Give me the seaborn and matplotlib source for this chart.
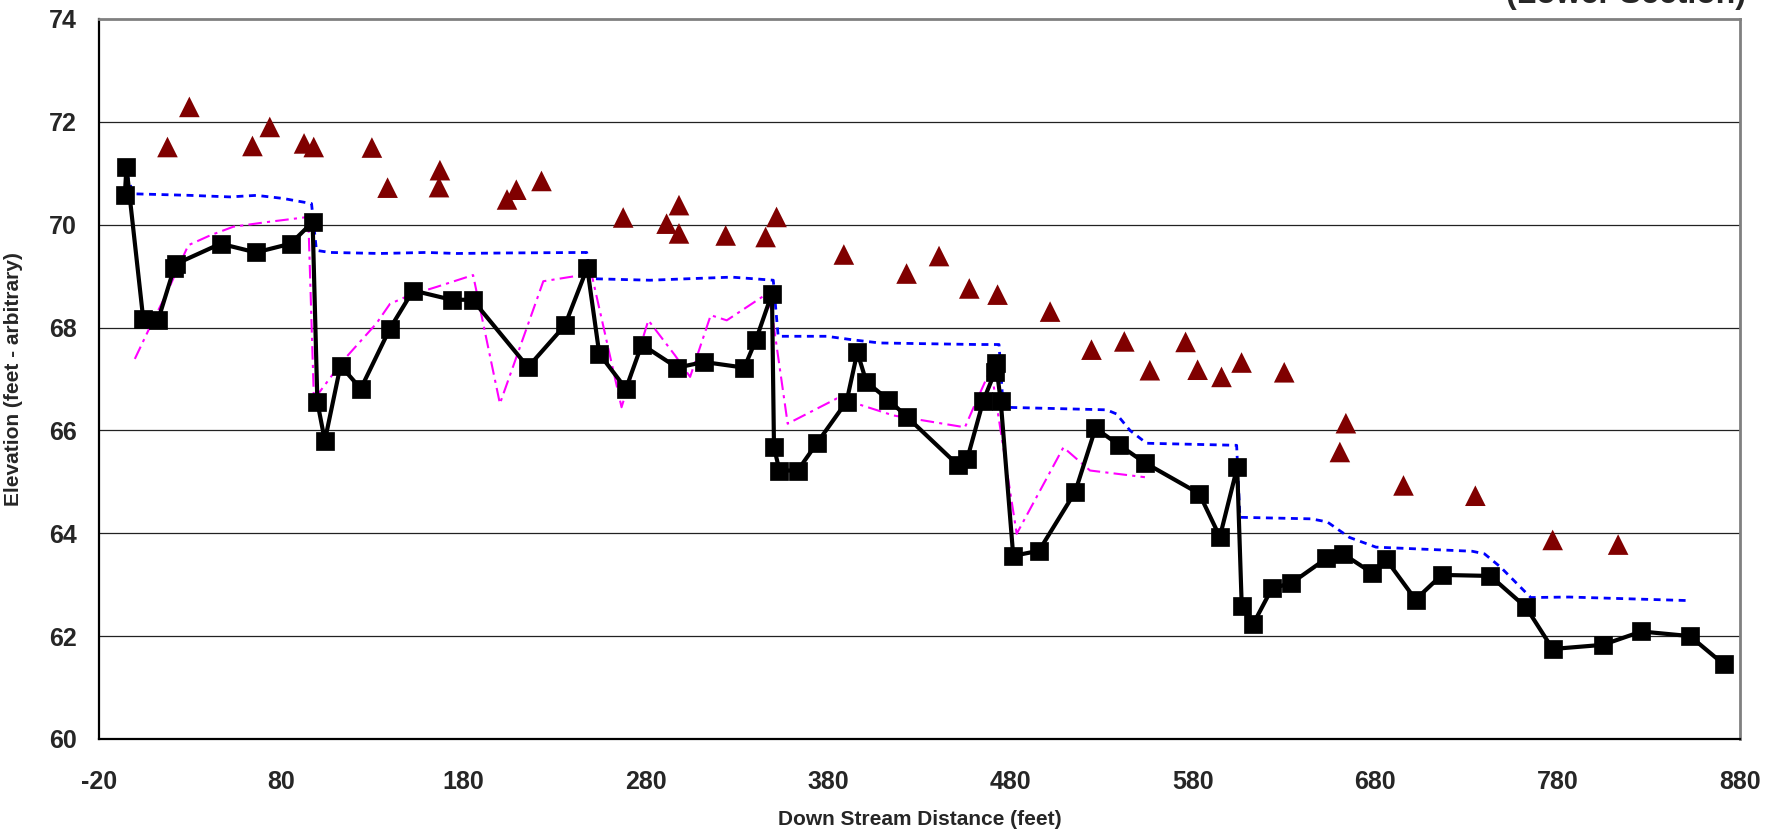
import matplotlib
matplotlib.use("Agg")
import matplotlib.pyplot as plt
import seaborn as sns

# --- thalweg (black squares) ---
thalweg_x = [-5.7, -4.8, 4.4, 12.6, 21.3, 22.6, 46.8, 66.2, 85.2, 97.3, 99.9, 104.0,
             112.6, 123.7, 139.7, 152.4, 173.5, 185.0, 215.4, 235.6, 247.9, 254.5,
             269.1, 277.8, 297.2, 311.9, 334.0, 340.3, 349.2, 350.3, 353.3, 363.3,
             374.0, 390.1, 396.0, 401.0, 412.9, 423.3, 451.3, 456.3, 465.1, 471.4,
             472.0, 474.6, 481.5, 495.6, 515.4, 526.6, 539.4, 553.7, 583.5, 594.8,
             604.3, 606.8, 613.0, 623.4, 634.0, 653.2, 662.3, 678.2, 686.0, 702.1,
             716.5, 743.1, 762.7, 777.3, 804.8, 826.0, 852.6, 871.2]
thalweg_y = [70.57, 71.12, 68.17, 68.15, 69.15, 69.24, 69.63, 69.46, 69.63, 70.05, 66.55, 65.80,
             67.26, 66.81, 67.98, 68.72, 68.54, 68.54, 67.23, 68.04, 69.16, 67.49,
             66.81, 67.67, 67.22, 67.33, 67.22, 67.75, 68.66, 65.67, 65.22, 65.22,
             65.76, 66.56, 67.52, 66.94, 66.60, 66.26, 65.32, 65.45, 66.58, 67.13,
             67.31, 66.58, 63.56, 63.66, 64.80, 66.04, 65.72, 65.37, 64.77, 63.93,
             65.28, 62.58, 62.23, 62.93, 63.03, 63.51, 63.60, 63.23, 63.49, 62.71,
             63.19, 63.17, 62.56, 61.75, 61.83, 62.09, 62.00, 61.45]

# --- bank tops (dark red triangles) ---
bank_x = [17.7, 29.7, 64.3, 73.8, 92.6, 97.9, 129.8, 138.4, 167.1, 166.6, 203.9, 209.0,
          222.8, 267.6, 291.4, 298.2, 298.2, 323.8, 345.7, 351.7, 388.6, 423.0, 440.8,
          457.4, 472.9, 501.7, 524.4, 542.4, 556.4, 576.0, 582.6, 595.7, 606.7, 630.1,
          660.6, 663.9, 695.5, 734.9, 777.3, 813.2]
bank_y = [71.51, 72.29, 71.53, 71.90, 71.58, 71.51, 71.50, 70.72, 71.06, 70.73, 70.49, 70.68,
          70.85, 70.14, 70.02, 70.38, 69.83, 69.79, 69.76, 70.15, 69.42, 69.05, 69.39,
          68.76, 68.64, 68.31, 67.57, 67.73, 67.17, 67.72, 67.18, 67.04, 67.32, 67.13,
          65.58, 66.14, 64.93, 64.73, 63.87, 63.78]

# --- water surface (blue dotted) ---
water_x = [-4.8, -1.1, 30.0, 51.9, 66.5, 81.1, 96.7, 99.4, 106.7, 134.2, 159.8, 176.2,
           203.7, 247.6, 249.8, 282.3, 304.2, 327.1, 349.9, 352.6, 379.1, 393.7, 408.3,
           461.4, 473.7, 476.0, 532.7, 538.1, 545.5, 554.6, 604.0, 605.8, 645.0, 653.7,
           665.8, 680.4, 733.2, 739.9, 748.8, 765.3, 786.3, 852.7]
water_y = [71.00, 70.60, 70.57, 70.54, 70.57, 70.51, 70.41, 69.50, 69.46, 69.44, 69.46, 69.44,
           69.45, 69.46, 68.95, 68.92, 68.95, 68.98, 68.92, 67.83, 67.83, 67.76, 67.70,
           67.67, 67.67, 66.45, 66.40, 66.32, 66.00, 65.75, 65.71, 64.31, 64.28, 64.22,
           63.92, 63.73, 63.65, 63.60, 63.34, 62.75, 62.76, 62.69]

# --- previous profile (magenta dash-dot) ---
prev_x = [-0.2, 8.1, 17.2, 29.1, 41.0, 53.8, 72.1, 94.9, 98.0, 114.1, 132.3, 139.7,
          150.6, 165.3, 185.3, 200.0, 223.8, 250.2, 266.7, 281.4, 296.0, 304.3, 315.6,
          324.4, 345.3, 348.9, 357.8, 384.7, 395.6, 415.8, 455.0, 461.4, 469.3, 483.4,
          509.0, 523.6, 553.7]
prev_y = [67.39, 68.01, 68.66, 69.60, 69.79, 69.96, 70.05, 70.15, 66.60, 67.36, 68.08, 68.46,
          68.63, 68.79, 69.02, 66.52, 68.90, 69.05, 66.45, 68.14, 67.46, 67.04, 68.24,
          68.14, 68.63, 68.35, 66.13, 66.62, 66.52, 66.29, 66.06, 66.58, 67.20, 63.99,
          65.67, 65.22, 65.09]

x_ticks = list(range(-20, 881, 100))
y_ticks = list(range(60, 75, 2))

sns.set_style("white")
plt.rcParams['font.family'] = ['Liberation Sans', 'DejaVu Sans']
plt.rcParams['font.weight'] = 'bold'
plt.rcParams['axes.unicode_minus'] = False

fig = plt.figure(figsize=(17.82, 8.35), dpi=100)
ax = fig.add_axes([0.0554, 0.1150, 0.921, 0.8623])

for yv in y_ticks[1:-1]:
    ax.axhline(yv, color='#222222', lw=0.9, zorder=0)

sns.lineplot(x=water_x, y=water_y, sort=False, estimator=None, ax=ax,
             color='#0000FF', lw=2.0, linestyle=(0, (2.5, 2)), zorder=2)
sns.lineplot(x=prev_x, y=prev_y, sort=False, estimator=None, ax=ax,
             color='#FF00FF', lw=1.5, linestyle=(0, (6.5, 2.5, 1.5, 2.5)), zorder=2)
sns.lineplot(x=thalweg_x, y=thalweg_y, sort=False, estimator=None, ax=ax,
             color='black', lw=3.0, marker='s', markersize=12.5,
             markeredgecolor='black', markeredgewidth=0.5, zorder=4)
sns.scatterplot(x=bank_x, y=bank_y, ax=ax, marker='^', s=220,
                color='#800000', edgecolor='none', zorder=3)

ax.set_xlim(-20, 880)
ax.set_ylim(60, 74)
ax.set_xticks(x_ticks)
ax.set_yticks(y_ticks)
ax.tick_params(axis='both', direction='out', length=6, width=1.2, color='black',
               labelsize=18)
ax.tick_params(axis='y', pad=10)
ax.tick_params(axis='x', pad=16)
for lab in ax.get_xticklabels() + ax.get_yticklabels():
    lab.set_fontweight('bold')

for side in ['left', 'bottom']:
    ax.spines[side].set_color('black')
    ax.spines[side].set_linewidth(1.6)
for side in ['top', 'right']:
    ax.spines[side].set_color('#808080')
    ax.spines[side].set_linewidth(2)

ax.set_xlabel('Down Stream Distance (feet)', fontsize=15, fontweight='bold')
ax.set_ylabel('Elevation (feet - arbitrary)', fontsize=15, fontweight='bold')
ax.xaxis.set_label_coords(0.5, -0.098)
ax.yaxis.set_label_coords(-0.046, 0.5)

fig.text(0.980, 0.9969, '(Lower Section)', ha='right', va='baseline',
         fontsize=23, fontweight='bold')

fig.savefig('out.png', dpi=100)
